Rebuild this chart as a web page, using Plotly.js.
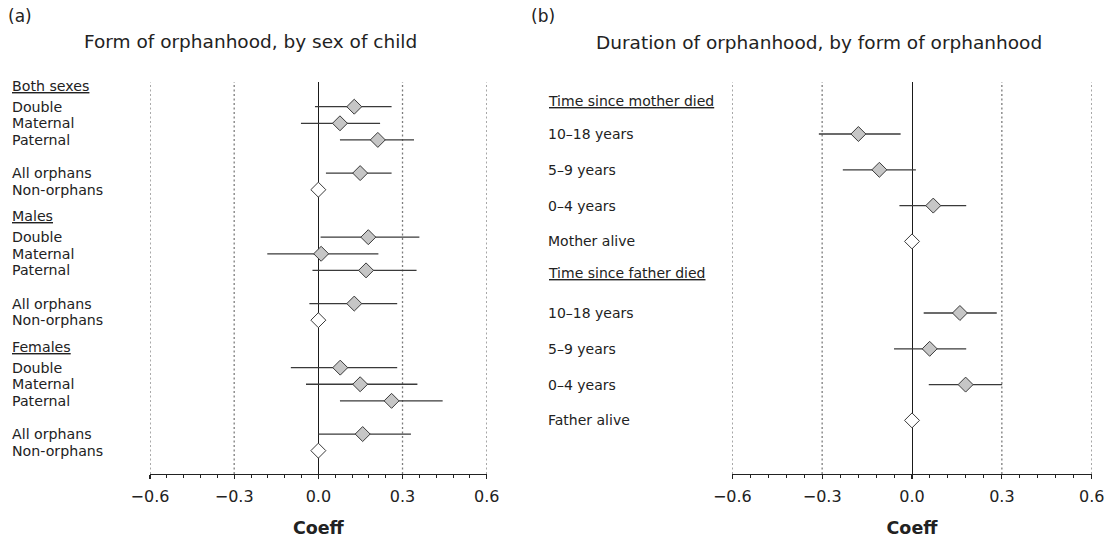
<!DOCTYPE html>
<html>
<head>
<meta charset="utf-8">
<script src="https://cdn.plot.ly/plotly-3.0.1.min.js"></script>
<style>html,body{margin:0;padding:0;background:#fff;}#chart{width:1106px;height:540px;}</style>
</head>
<body>
<div id="chart"></div>
<script>
// ---------- Data ----------
// Panel (a): form of orphanhood, by sex of child
const groupsA = ['Both sexes', 'Males', 'Females'];
const formsA = ['Double', 'Maternal', 'Paternal', 'All orphans', 'Non-orphans'];
const coefBoth   = [0.128, 0.077, 0.212, 0.149, 0.0];
const loBoth     = [-0.012, -0.062, 0.077, 0.027, null];
const hiBoth     = [0.261, 0.220, 0.341, 0.261, null];
const coefMales  = [0.178, 0.010, 0.170, 0.128, 0.0];
const loMales    = [0.008, -0.182, -0.021, -0.032, null];
const hiMales    = [0.360, 0.214, 0.350, 0.281, null];
const coefFemales= [0.078, 0.149, 0.261, 0.158, 0.0];
const loFemales  = [-0.098, -0.044, 0.077, 0.000, null];
const hiFemales  = [0.281, 0.353, 0.443, 0.330, null];
const refA = [false, false, false, false, true];

// Panel (b): duration of orphanhood, by form of orphanhood
const headersB = ['Time since mother died', 'Time since father died'];
const durMother = ['10\u201318 years', '5\u20139 years', '0\u20134 years', 'Mother alive'];
const durFather = ['10\u201318 years', '5\u20139 years', '0\u20134 years', 'Father alive'];
const coefMother = [-0.179, -0.109, 0.071, 0.0];
const loMother   = [-0.311, -0.231, -0.042, null];
const hiMother   = [-0.038, 0.013, 0.181, null];
const coefFather = [0.160, 0.059, 0.179, 0.0];
const loFather   = [0.039, -0.060, 0.056, null];
const hiFather   = [0.283, 0.181, 0.301, null];
const refB = [false, false, false, true];

const tickVals = [-0.6, -0.3, 0.0, 0.3, 0.6];

// ---------- Layout helpers ----------
const W = 1106, H = 540, TOP = 82, BOT = 474;
const pyPaper = p => (BOT - p) / (BOT - TOP);
const pxPaper = p => p / W;
const FONT = '"DejaVu Sans", "Liberation Sans", Arial, sans-serif';
const TXT = '#222';

// Row positions (row units) for panel (a)
const itemRowsA = [0, 1, 2, 4, 5];
const groupStepA = 7.86, headerOffA = -1.25;
const rowPxA = 16.6, row0PxA = 106.7;
// Row positions for panel (b)
const itemRowsB = [[0, 1, 2, 3], [5, 6, 7, 8]];
const headerRowsB = [-0.93, 3.87];
const rowPxB = 35.8, row0PxB = 134;

const traces = [];
const annotations = [];
const shapes = [];

function addSeries(coef, lo, hi, rows, ref, xa, ya) {
  const gx = [], gy = [], gp = [], gm = [], wx = [], wy = [];
  coef.forEach((c, i) => {
    if (ref[i]) { wx.push(c); wy.push(rows[i]); }
    else { gx.push(c); gy.push(rows[i]); gp.push(hi[i] - c); gm.push(c - lo[i]); }
  });
  traces.push({
    type: 'scatter', mode: 'markers', x: gx, y: gy, xaxis: xa, yaxis: ya,
    cliponaxis: false, hoverinfo: 'skip',
    error_x: {type: 'data', symmetric: false, array: gp, arrayminus: gm,
              color: '#3a3a3a', thickness: 1.3, width: 0},
    marker: {symbol: 'diamond', size: 11.5, color: '#c6c6c6',
             line: {color: '#3a3a3a', width: 1}}
  });
  traces.push({
    type: 'scatter', mode: 'markers', x: wx, y: wy, xaxis: xa, yaxis: ya,
    cliponaxis: false, hoverinfo: 'skip',
    marker: {symbol: 'diamond', size: 11.5, color: '#ffffff',
             line: {color: '#3a3a3a', width: 1}}
  });
}

// Panel (a)
const coefsA = [coefBoth, coefMales, coefFemales];
const losA = [loBoth, loMales, loFemales];
const hisA = [hiBoth, hiMales, hiFemales];
groupsA.forEach((g, gi) => {
  const rows = itemRowsA.map(r => r + gi * groupStepA);
  addSeries(coefsA[gi], losA[gi], hisA[gi], rows, refA, 'x', 'y');
  annotations.push({xref: 'paper', yref: 'y', x: pxPaper(10), y: gi * groupStepA + headerOffA,
    xanchor: 'left', yanchor: 'middle', showarrow: false, text: '<u>' + g + '</u>',
    font: {family: FONT, size: 14.2, color: TXT}});
  formsA.forEach((f, i) => {
    annotations.push({xref: 'paper', yref: 'y', x: pxPaper(10), y: rows[i],
      xanchor: 'left', yanchor: 'middle', showarrow: false, text: f,
      font: {family: FONT, size: 14.2, color: TXT}});
  });
});

// Panel (b)
const labelsB = [durMother, durFather];
const coefsB = [coefMother, coefFather];
const losB = [loMother, loFather];
const hisB = [hiMother, hiFather];
headersB.forEach((h, hi) => {
  const rows = itemRowsB[hi];
  addSeries(coefsB[hi], losB[hi], hisB[hi], rows, refB, 'x2', 'y2');
  annotations.push({xref: 'paper', yref: 'y2', x: pxPaper(546), y: headerRowsB[hi],
    xanchor: 'left', yanchor: 'middle', showarrow: false, text: '<u>' + h + '</u>',
    font: {family: FONT, size: 14, color: TXT}});
  labelsB[hi].forEach((l, i) => {
    annotations.push({xref: 'paper', yref: 'y2', x: pxPaper(546), y: rows[i],
      xanchor: 'left', yanchor: 'middle', showarrow: false, text: l,
      font: {family: FONT, size: 14, color: TXT}});
  });
});

// Dotted reference lines at the non-zero ticks (both panels)
[['x', 'y'], ['x2', 'y2']].forEach(([xa, ya]) => {
  tickVals.filter(v => v !== 0).forEach(v => {
    shapes.push({type: 'line', xref: xa, yref: ya + ' domain', x0: v, x1: v, y0: 0, y1: 1,
      layer: 'below', line: {color: '#7c7c7c', width: 1.3, dash: '2px,2.5px'}});
  });
});

// Titles and panel letters
annotations.push({xref: 'paper', yref: 'paper', x: pxPaper(250), y: pyPaper(41), xanchor: 'center', yanchor: 'middle',
  showarrow: false, text: 'Form of orphanhood, by sex of child', font: {family: FONT, size: 18.5, color: TXT}});
annotations.push({xref: 'paper', yref: 'paper', x: pxPaper(819), y: pyPaper(43), xanchor: 'center', yanchor: 'middle',
  showarrow: false, text: 'Duration of orphanhood, by form of orphanhood', font: {family: FONT, size: 18.5, color: TXT}});
annotations.push({xref: 'paper', yref: 'paper', x: pxPaper(6), y: pyPaper(16), xanchor: 'left', yanchor: 'middle',
  showarrow: false, text: '(a)', font: {family: FONT, size: 17, color: TXT}});
annotations.push({xref: 'paper', yref: 'paper', x: pxPaper(529), y: pyPaper(16), xanchor: 'left', yanchor: 'middle',
  showarrow: false, text: '(b)', font: {family: FONT, size: 17, color: TXT}});

function xAxis(domain, anchor) {
  return {
    domain: domain, anchor: anchor, range: [-0.6, 0.6], fixedrange: true,
    tickmode: 'array', tickvals: tickVals, tickformat: '.1f',
    showline: true, linecolor: '#222', linewidth: 1.4,
    ticks: 'outside', ticklen: 4, tickwidth: 1.3, tickcolor: '#222',
    ticklabelstandoff: 3,
    tickfont: {family: FONT, size: 16, color: TXT},
    minor: {tickmode: 'linear', tick0: 0, dtick: 0.06, ticks: 'outside', ticklen: 3,
            tickwidth: 1, tickcolor: '#222', showgrid: false},
    showgrid: false,
    zeroline: true, zerolinecolor: '#1a1a1a', zerolinewidth: 1,
    title: {text: 'Coeff', font: {family: FONT, size: 17.5, color: TXT, weight: 'bold'}, standoff: 17},
    automargin: false
  };
}

const layout = {
  width: W, height: H,
  margin: {l: 0, r: 0, t: TOP, b: H - BOT, pad: 0},
  paper_bgcolor: '#fff', plot_bgcolor: '#fff',
  showlegend: false,
  xaxis: xAxis([pxPaper(150), pxPaper(486.7)], 'y'),
  xaxis2: xAxis([pxPaper(732.3), pxPaper(1091.7)], 'y2'),
  yaxis: {range: [(BOT - row0PxA) / rowPxA, (TOP - row0PxA) / rowPxA], visible: false,
          fixedrange: true, anchor: 'x'},
  yaxis2: {range: [(BOT - row0PxB) / rowPxB, (TOP - row0PxB) / rowPxB], visible: false,
           fixedrange: true, anchor: 'x2'},
  shapes: shapes,
  annotations: annotations
};

Plotly.newPlot('chart', traces, layout, {displayModeBar: false, staticPlot: true});
</script>
</body>
</html>
